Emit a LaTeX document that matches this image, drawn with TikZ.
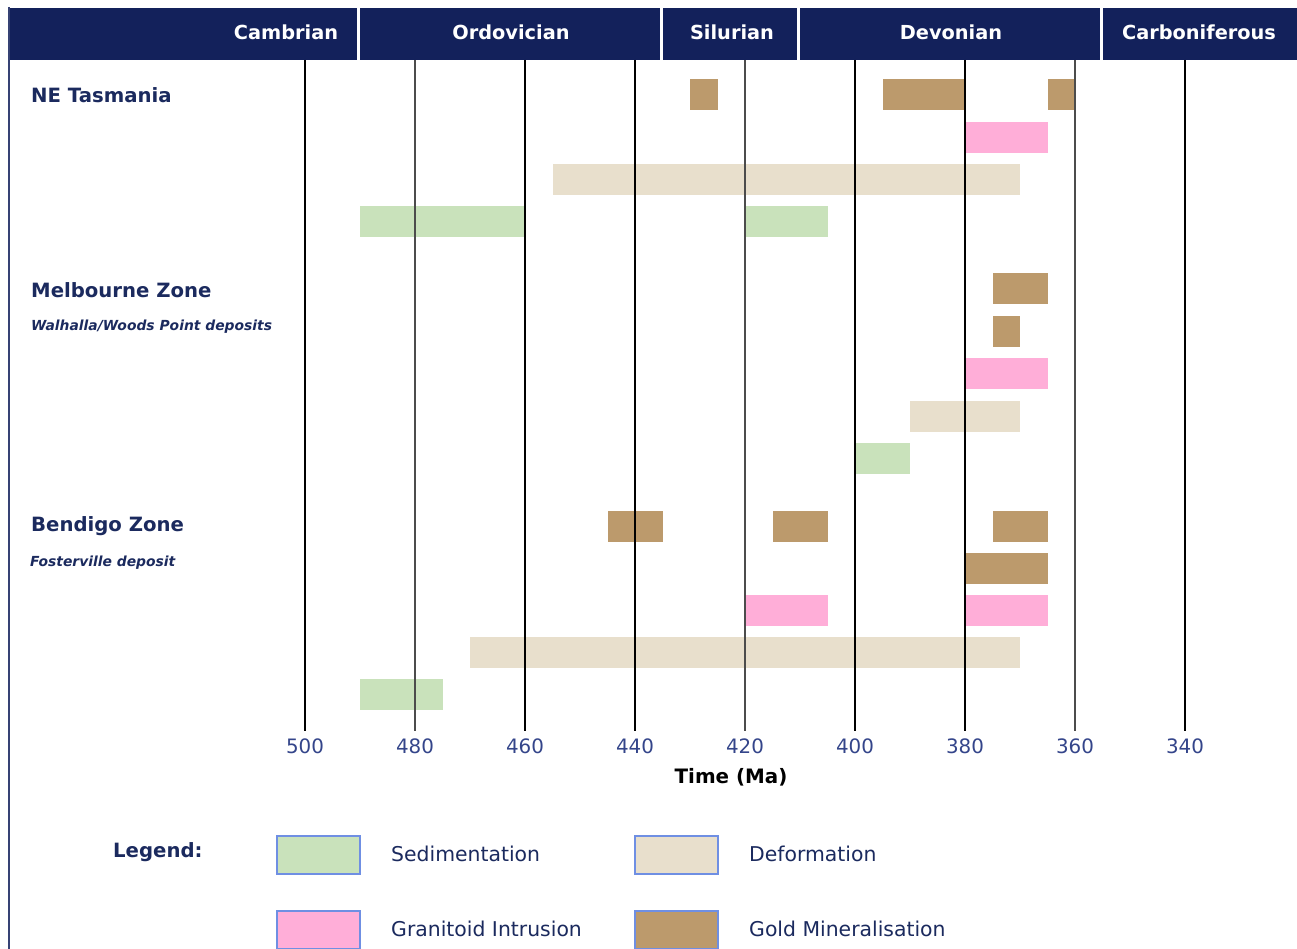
\documentclass[tikz,border=0pt]{standalone}
\usepackage{fontspec}
\setmainfont{DejaVu Sans}
\definecolor{navy}{HTML}{13215B}
\definecolor{labelc}{HTML}{1B2A5E}
\definecolor{axisc}{HTML}{34458A}
\definecolor{goldc}{HTML}{BC9A6C}
\definecolor{granc}{HTML}{FFAED8}
\definecolor{deformc}{HTML}{E8DFCC}
\definecolor{sedc}{HTML}{C9E2BB}
\definecolor{swatchc}{HTML}{6F8FE3}

\begin{document}
\begin{tikzpicture}[x=0.02cm,y=-0.02cm,
  period/.style={text=white,font=\bfseries\fontsize{11}{13}\selectfont},
  zone/.style={anchor=west,text=labelc,font=\bfseries\fontsize{11.2}{13}\selectfont},
  deposit/.style={anchor=west,text=labelc,font=\bfseries\itshape\fontsize{7.9}{9}\selectfont},
  tick/.style={text=axisc,font=\fontsize{11.3}{13}\selectfont},
  swatch/.style={draw=swatchc,line width=0.6pt,inner sep=0pt,minimum width=1.66cm,minimum height=0.76cm},
  legendtext/.style={anchor=west,text=labelc,font=\fontsize{11.6}{13}\selectfont}]
\useasboundingbox (0,0) rectangle (1297,949);
% header
\foreach \l/\r in {10/357,360/660,663/797,800/1100,1103/1297}
  \fill[navy] (\l,8) rectangle (\r,60);
\node[period] (cambrian) at (286,32) {Cambrian};
\node[period] (ordovician) at (511,32) {Ordovician};
\node[period] (silurian) at (732,32) {Silurian};
\node[period] (devonian) at (951,32) {Devonian};
\node[period] (carboniferous) at (1199,32) {Carboniferous};
\draw[navy!85,line width=0.9pt] (9,7) -- (9,949);
% bars: older/younger age, row, colour
\foreach \a/\b/\y/\c in {430/425/95/goldc,395/380/95/goldc,365/360/95/goldc,
    380/365/138/granc,455/370/180/deformc,490/460/222/sedc,420/405/222/sedc,
    375/365/289/goldc,375/370/331/goldc,380/365/373/granc,390/370/416/deformc,400/390/458/sedc,
    445/435/526/goldc,415/405/526/goldc,375/365/526/goldc,380/365/568/goldc,
    420/405/610/granc,380/365/610/granc,470/370/652/deformc,490/475/694/sedc}
  \fill[fill=\c] ({305+(500-\a)*5.5},\y-15.5) rectangle ({305+(500-\b)*5.5},\y+15.5);
% time lines
\foreach \t/\w/\k in {500/1.1pt/black,480/0.8pt/black!70,460/1.1pt/black,440/0.7pt/black,
    420/0.8pt/black!70,400/1.1pt/black,380/0.8pt/black,360/0.8pt/black!70,340/1.1pt/black}
  \draw[line width=\w,draw=\k] ({305+(500-\t)*5.5},60) -- ({305+(500-\t)*5.5},731);
\foreach \t in {500,480,...,340}
  \node[tick] (t\t) at ({305+(500-\t)*5.5},746) {\t};
\node[font=\bfseries\fontsize{11.3}{13}\selectfont] (time) at (731,777) {Time (Ma)};
% zones
\node[zone] (netas) at (25,95) {NE Tasmania};
\node[zone] (melbourne) at (25,290) {Melbourne Zone};
\node[deposit] (walhalla) at (25,327) {Walhalla/Woods Point deposits};
\node[zone] (bendigo) at (25,526) {Bendigo Zone};
\node[deposit] (fosterville) at (24,563) {Fosterville deposit};
% legend
\node[zone] (legend) at (107,852) {Legend:};
\node[swatch,fill=sedc] (sedbox) at (318.5,855) {};
\node[legendtext] (sedtext) at (385,854) {Sedimentation};
\node[swatch,fill=deformc] (defbox) at (676.5,855) {};
\node[legendtext] (deftext) at (743,854) {Deformation};
\node[swatch,fill=granc] (granbox) at (318.5,930) {};
\node[legendtext] (grantext) at (385,929) {Granitoid Intrusion};
\node[swatch,fill=goldc] (goldbox) at (676.5,930) {};
\node[legendtext] (goldtext) at (743,929) {Gold Mineralisation};
\end{tikzpicture}
\end{document}
